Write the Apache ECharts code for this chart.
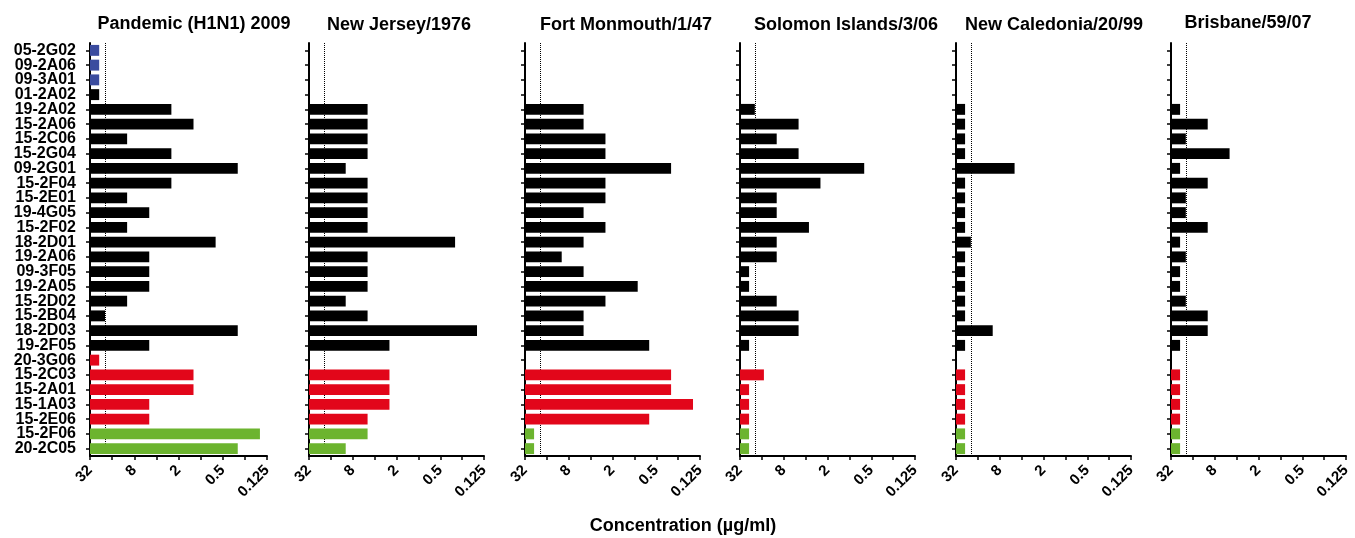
<!DOCTYPE html>
<html>
<head>
<meta charset="utf-8">
<script src="https://cdn.jsdelivr.net/npm/echarts@6/dist/echarts.min.js"></script>
<style>
html,body{margin:0;padding:0;background:#fff;}
#chart{width:1355px;height:538px;}
</style>
</head>
<body>
<div id="chart"></div>
<script>
// ---------- data ----------
const categories = ['05-2G02','09-2A06','09-3A01','01-2A02','19-2A02','15-2A06','15-2C06','15-2G04','09-2G01','15-2F04','15-2E01','19-4G05','15-2F02','18-2D01','19-2A06','09-3F05','19-2A05','15-2D02','15-2B04','18-2D03','19-2F05','20-3G06','15-2C03','15-2A01','15-1A03','15-2E06','15-2F06','20-2C05'];
// antibody group of each category (colour key below)
const categoryGroup = ['g1','g1','g1','g2','g2','g2','g2','g2','g2','g2','g2','g2','g2','g2','g2','g2','g2','g2','g2','g2','g2','g3','g3','g3','g3','g3','g4','g4'];

const panelTitles = ['Pandemic (H1N1) 2009','New Jersey/1976','Fort Monmouth/1/47','Solomon Islands/3/06','New Caledonia/20/99','Brisbane/59/07'];

const pandemic2009 = [24,24,24,24, 2.5,1.25,10,2.5,0.3125, 2.5,10,5,10,0.625, 5,5,5,10,20, 0.3125,5, 24,1.25,1.25,5,5, 0.156,0.3125];
const newJersey1976 = [null,null,null,null, 5,5,5,5,10, 5,5,5,5,0.3125, 5,5,5,10,5, 0.156,2.5, null,2.5,2.5,2.5,5, 5,10];
const fortMonmouth147 = [null,null,null,null, 5,5,2.5,2.5,0.3125, 2.5,2.5,5,2.5,5, 10,5,0.9,2.5,5, 5,0.625, null,0.3125,0.3125,0.156,0.625, 24,24];
const solomonIslands306 = [null,null,null,null, 20,5,10,5,0.625, 2.5,10,10,3.6,10, 10,24,24,10,5, 5,24, null,15,24,24,24, 24,24];
const newCaledonia2099 = [null,null,null,null, 24,24,24,24,5, 24,24,24,24,20, 24,24,24,24,24, 10,24, null,24,24,24,24, 24,24];
const brisbane5907 = [null,null,null,null, 24,10,20,5,24, 10,20,20,10,24, 20,24,24,20,10, 10,24, null,24,24,24,24, 24,24];

const panelValues = [pandemic2009, newJersey1976, fortMonmouth147, solomonIslands306, newCaledonia2099, brisbane5907];

const axisMax = 32;      // highest concentration (left end)
const axisMin = 0.125;   // lowest concentration (right end)
const tickLabels = ['32','8','2','0.5','0.125'];
const cutoffValue = 20;  // dotted reference line
const axisTitle = 'Concentration (µg/ml)';

// ---------- styles / layout ----------
const groupColor = {g1:'#3b4c9f', g2:'#000000', g3:'#e2061a', g4:'#6cb42f'};
const FONT = '"Liberation Sans", Arial, Helvetica, sans-serif';
const gridLeft = [90, 309, 525, 740, 956, 1171];
const gridWidth = [177, 175, 175, 175, 175, 175];
const gridTop = 43, gridHeight = 413;
const titlePos = [[194,24],[399,25],[626,25],[846,25],[1054,25],[1248,23]];

const chart = echarts.init(document.getElementById('chart'), null, {renderer:'canvas'});

const grids = [], xAxes = [], yAxes = [], series = [];
panelValues.forEach((vals, p) => {
  grids.push({left: gridLeft[p], width: gridWidth[p], top: gridTop, height: gridHeight, containLabel: false});
  xAxes.push({
    gridIndex: p, type: 'log', logBase: 2, min: axisMin, max: axisMax, inverse: true, splitNumber: 8,
    axisLine: {show: true, lineStyle: {color: '#000', width: 2}},
    axisTick: {show: true, inside: false, length: 4, lineStyle: {color: '#000', width: 1.5}},
    splitLine: {show: false}, minorTick: {show: false},
    axisLabel: {
      show: true, rotate: 45, margin: 12, color: '#000', fontSize: 15, fontWeight: 'bold', fontFamily: FONT,
      showMinLabel: true, showMaxLabel: true,
      formatter: v => { const s = String(+(+v).toPrecision(6)); return tickLabels.indexOf(s) >= 0 ? s : ''; }
    }
  });
  yAxes.push({
    gridIndex: p, type: 'category', data: categories, inverse: true,
    axisLine: {show: true, lineStyle: {color: '#000', width: 2}},
    axisTick: {show: true, alignWithLabel: true, length: 4, lineStyle: {color: '#000', width: 1.5}},
    splitLine: {show: false},
    axisLabel: {show: p === 0, interval: 0, color: '#000', fontSize: 16, fontWeight: 'bold', fontFamily: FONT, margin: 14}
  });
  const data = [];
  vals.forEach((v, i) => { if (v != null) data.push([v, i]); });
  series.push({
    type: 'custom', xAxisIndex: p, yAxisIndex: p, z: 3,
    encode: {x: 0, y: 1},
    data: data,
    renderItem: (params, api) => {
      const v = api.value(0), idx = api.value(1);
      const start = api.coord([axisMax, idx]);
      const end = api.coord([v, idx]);
      const band = api.size([0, 1])[1];
      const h = band * 0.74;
      return {
        type: 'rect',
        shape: {x: start[0], y: start[1] - h / 2, width: end[0] - start[0], height: h},
        style: {fill: groupColor[categoryGroup[idx]]}
      };
    },
    markLine: {
      silent: true, symbol: 'none', z: 1,
      label: {show: false},
      lineStyle: {color: '#000', type: 'dotted', width: 1},
      data: [{xAxis: cutoffValue}]
    }
  });
});

const graphics = panelTitles.map((t, p) => ({
  type: 'text', x: titlePos[p][0], y: titlePos[p][1],
  style: {text: t, fontSize: 18, fontWeight: 'bold', fontFamily: FONT, fill: '#000', align: 'center', verticalAlign: 'middle'}
}));
graphics.push({
  type: 'text', x: 683, y: 526,
  style: {text: axisTitle, fontSize: 18, fontWeight: 'bold', fontFamily: FONT, fill: '#000', align: 'center', verticalAlign: 'middle'}
});

chart.setOption({
  backgroundColor: '#fff',
  animation: false,
  grid: grids,
  xAxis: xAxes,
  yAxis: yAxes,
  series: series,
  graphic: graphics
});
</script>
</body>
</html>
